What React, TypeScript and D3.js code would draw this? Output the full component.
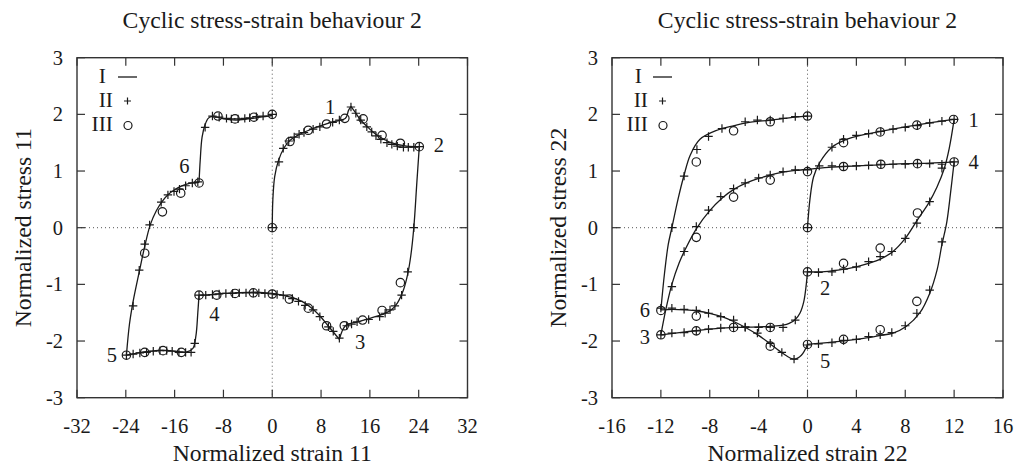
import React from "react";
import * as d3 from "d3";

type P = [number, number];

// ---------- Left panel (strain 11 / stress 11) ----------
const leftXTicks = [-32, -24, -16, -8, 0, 8, 16, 24, 32];
const rightXTicks = [-16, -12, -8, -4, 0, 4, 8, 12, 16];
const yTicks = [-3, -2, -1, 0, 1, 2, 3];

// Curve I, left, branches
const L_I_01: P[] = [[0,0],[0.1,0.5],[0.4,0.9],[1,1.18],[2,1.42],[3,1.55],[4,1.62],[6,1.72],[8,1.8],[10,1.87],[12,1.93],[12.5,2.07],[12.9,2.14]];
const L_I_12: P[] = [[12.9,2.14],[13.7,2.02],[14.5,1.9],[15.5,1.79],[16.5,1.69],[17.5,1.61],[18.5,1.55],[19.5,1.5],[20.5,1.47],[22,1.44],[24.1,1.43]];
const L_I_23: P[] = [[24.1,1.43],[23.7,0.8],[23.2,0],[22.7,-0.5],[22.2,-0.82],[21.5,-1.1],[20.5,-1.33],[19.5,-1.45],[18,-1.53],[16,-1.6],[14,-1.66],[12,-1.73],[11,-1.97]];
const L_I_34: P[] = [[11,-1.97],[10,-1.84],[9,-1.71],[8,-1.58],[7,-1.47],[6,-1.38],[5,-1.31],[4,-1.26],[2,-1.2],[0,-1.16],[-2,-1.14],[-4,-1.14],[-6,-1.15],[-8,-1.16],[-10,-1.18],[-12,-1.19]];
const L_I_45: P[] = [[-12,-1.19],[-12.2,-1.5],[-12.5,-1.9],[-13,-2.13],[-14,-2.19],[-16,-2.18],[-18,-2.16],[-20,-2.18],[-22,-2.21],[-23.9,-2.25]];
const L_I_56: P[] = [[-23.9,-2.25],[-23.4,-1.7],[-22.8,-1.3],[-21.8,-0.78],[-20.9,-0.33],[-20,0.05],[-19,0.3],[-18,0.47],[-17,0.59],[-16,0.67],[-15,0.73],[-14,0.77],[-13,0.79],[-12,0.8]];
const L_I_6e: P[] = [[-12,0.8],[-11.8,1.2],[-11.5,1.6],[-11,1.82],[-10.5,1.93],[-10,1.96],[-9,1.95],[-8,1.92],[-6,1.9],[-4,1.92],[-2,1.95],[0,1.98]];

const L_II: P[] = [
  [0,0],[1.1,1.16],[1.8,1.4],[2.7,1.53],[3.6,1.6],[4.4,1.65],[5.2,1.68],[6.7,1.74],[7.8,1.78],[9.9,1.86],[11,1.9],[12.9,2.13],
  [13.7,2.02],[14.5,1.9],[15.5,1.78],[16.3,1.69],[17,1.62],[17.8,1.56],[18.8,1.5],[19.6,1.47],[20.5,1.44],[21.5,1.42],[22.3,1.42],[23.2,1.42],[24.1,1.43],
  [23.2,0],[22.2,-0.78],[21.2,-1.19],[20.1,-1.38],[19.3,-1.45],[18.5,-1.51],[17.6,-1.57],[15.8,-1.62],[13.9,-1.66],[13,-1.7],[12.2,-1.73],[11,-1.95],
  [10,-1.83],[9.2,-1.75],[7.8,-1.57],[6.7,-1.45],[5.4,-1.37],[4.3,-1.3],[3.3,-1.25],[1.8,-1.19],[0.8,-1.18],[0,-1.17],[-1.2,-1.16],[-2.2,-1.15],[-3.1,-1.15],[-4.3,-1.15],[-5.4,-1.15],[-6.5,-1.16],[-7.6,-1.16],[-8.7,-1.17],[-9.8,-1.18],[-10.9,-1.19],[-12,-1.19],
  [-12.7,-2.04],[-13.3,-2.2],[-14.2,-2.2],[-15.3,-2.2],[-16.4,-2.18],[-17.3,-2.17],[-18.4,-2.17],[-19.5,-2.18],[-20.6,-2.2],[-21.7,-2.21],[-22.8,-2.23],[-23.9,-2.25],
  [-22.8,-1.38],[-21.8,-0.75],[-20.9,-0.29],[-20.1,0.05],[-18.2,0.45],[-17.1,0.58],[-16.1,0.64],[-15.2,0.68],[-14.2,0.74],[-13.1,0.79],[-12.2,0.81],
  [-11,1.77],[-9.8,1.97],[-8.7,1.95],[-7.5,1.93],[-6.7,1.92],[-5.6,1.92],[-4.5,1.93],[-3.7,1.94],[-2.6,1.96],[-1.5,1.97],[0,2.0],
];

const L_III: P[] = [
  [0,0],[2.9,1.52],[5.9,1.72],[8.9,1.83],[11.9,1.93],[14.9,1.92],[18,1.63],[21,1.49],[24.1,1.43],
  [21,-0.97],[18,-1.46],[14.8,-1.63],[11.8,-1.73],[8.9,-1.73],[5.9,-1.42],[2.8,-1.26],[0,-1.17],[-3.1,-1.15],[-6.1,-1.16],[-9.1,-1.19],[-12,-1.19],
  [-14.9,-2.2],[-17.9,-2.17],[-20.9,-2.2],[-23.9,-2.25],[-20.9,-0.45],[-18,0.28],[-15,0.61],[-12,0.79],
  [-8.9,1.97],[-6.1,1.92],[-3,1.95],[0,2.0],
];

const L_labels = ["1", "2", "3", "4", "5", "6"];
const L_labelPos: P[] = [[9.5,2.13],[27.3,1.46],[14.4,-2.01],[-9.5,-1.53],[-26.3,-2.25],[-14.4,1.09]];

// ---------- Right panel (strain 22 / stress 22) ----------
const R_I_01: P[] = [[0,0],[0.2,0.5],[0.5,0.9],[1,1.15],[2,1.42],[3,1.54],[4,1.61],[6,1.7],[8,1.78],[10,1.85],[12,1.91]];
const R_I_12: P[] = [[12,1.91],[11.6,1.4],[11.2,1.05],[10.6,0.72],[9.9,0.43],[9,0.14],[8,-0.19],[7,-0.42],[6,-0.55],[5,-0.63],[4,-0.69],[3,-0.73],[2,-0.76],[1,-0.78],[0,-0.78]];
const R_I_23: P[] = [[0,-0.78],[-0.1,-1.0],[-0.3,-1.3],[-0.6,-1.5],[-1,-1.62],[-1.5,-1.69],[-2,-1.72],[-3,-1.74],[-4,-1.75],[-6,-1.76],[-8,-1.79],[-10,-1.84],[-12,-1.89]];
const R_I_34: P[] = [[-12,-1.89],[-11.6,-1.45],[-11.1,-1.0],[-10.5,-0.62],[-10,-0.38],[-9.1,-0.02],[-8,0.3],[-7,0.52],[-6,0.68],[-5,0.79],[-4,0.87],[-3,0.93],[-2,0.98],[-1,1.01],[0,1.03],[2,1.07],[4,1.09],[6,1.11],[8,1.13],[10,1.14],[12,1.16]];
const R_I_45: P[] = [[12,1.16],[11.7,0.6],[11.4,0.1],[11,-0.3],[10.6,-0.75],[10,-1.16],[9.2,-1.5],[8.1,-1.74],[7,-1.86],[6,-1.9],[5,-1.94],[4,-1.97],[2,-2.02],[0,-2.06]];
const R_I_56: P[] = [[0,-2.06],[-0.5,-2.25],[-1.1,-2.32],[-2,-2.22],[-3,-2.06],[-4,-1.9],[-5,-1.77],[-6,-1.66],[-7,-1.57],[-8,-1.51],[-9,-1.47],[-10,-1.45],[-11,-1.44],[-12,-1.45]];
const R_I_6e: P[] = [[-12,-1.45],[-11.7,-0.8],[-11.4,-0.3],[-11.1,0.0],[-10.6,0.5],[-10.1,0.93],[-9.6,1.28],[-8.8,1.56],[-7.4,1.72],[-6,1.8],[-5,1.85],[-3,1.9],[-1,1.95],[0,1.97]];

const R_II: P[] = [
  [0,0],[0.96,1.09],[2,1.42],[2.95,1.56],[4,1.63],[5,1.66],[6,1.7],[7,1.74],[8,1.77],[9,1.8],[10,1.85],[11,1.88],[12,1.91],
  [11,1.05],[10,0.46],[8.95,0.08],[8,-0.19],[6.9,-0.42],[5.95,-0.51],[5,-0.6],[4,-0.69],[2.95,-0.73],[2,-0.78],[0.9,-0.79],[0,-0.78],
  [-1,-1.63],[-2,-1.76],[-3.05,-1.76],[-4,-1.76],[-5.1,-1.75],[-6.05,-1.76],[-7.1,-1.77],[-8.1,-1.79],[-9.1,-1.82],[-10.1,-1.85],[-11.1,-1.86],[-12,-1.89],
  [-11.1,-1.04],[-10.1,-0.42],[-9.1,0.02],[-8.1,0.31],[-7.1,0.55],[-6.05,0.69],[-5.1,0.79],[-4,0.88],[-3.05,0.93],[-2,0.99],[-1,1.02],[0,1.02],[2,1.09],[2.95,1.08],[4,1.09],[5,1.1],[6,1.12],[7,1.12],[8,1.12],[9,1.13],[10,1.13],[11,1.12],[12,1.16],
  [11,-0.25],[10,-1.1],[8.95,-1.51],[8,-1.73],[6.9,-1.85],[5.95,-1.89],[5,-1.92],[4,-1.97],[2.95,-1.99],[2,-2.03],[0.9,-2.05],[0,-2.07],
  [-1.1,-2.32],[-2.1,-2.2],[-3.05,-2.04],[-4.1,-1.86],[-5.1,-1.76],[-6.05,-1.63],[-7.1,-1.57],[-8.1,-1.51],[-9.1,-1.46],[-10.1,-1.44],[-11.1,-1.42],[-12,-1.42],
  [-11.1,0.0],[-10.1,0.91],[-9.05,1.38],[-8.1,1.61],[-7,1.75],[-5.1,1.87],[-4.1,1.9],[-3.05,1.9],[-2,1.93],[-1,1.96],[0,1.97],
];

const R_III: P[] = [
  [0,0],[2.95,1.5],[5.95,1.69],[8.95,1.81],[11.95,1.91],
  [9,0.26],[5.95,-0.36],[2.95,-0.63],[0,-0.78],
  [-3.05,-1.76],[-6.05,-1.76],[-9.1,-1.82],[-12,-1.89],
  [-9.1,-0.17],[-6.05,0.54],[-3.05,0.84],[0,0.99],[2.95,1.08],[6,1.12],[9,1.13],[12,1.16],
  [8.95,-1.3],[5.95,-1.8],[2.95,-1.97],[0,-2.06],
  [-3.05,-2.09],[-9.1,-1.56],[-12,-1.46],
  [-9.1,1.16],[-6.05,1.71],[-3.05,1.87],[0,1.97],
];

const R_labels = ["1", "4", "2", "5", "6", "3"];
const R_labelPos: P[] = [[13.6,1.9],[13.6,1.16],[1.45,-1.07],[1.45,-2.36],[-13.3,-1.45],[-13.3,-1.92]];

const legendNames = ["I", "II", "III"];

const FONT = "'Liberation Serif', 'Times New Roman', Times, serif";
const INK = "#1a1a1a";

type PanelProps = {
  x0: number; x1: number; y0: number; y1: number;
  xDomain: [number, number]; xTicks: number[];
  branches: P[][]; plus: P[]; circles: P[];
  labels: string[]; labelPos: P[];
  title: string; xLabel: string; yLabel: string;
  legendTextDx: number[];
};

function Panel(p: PanelProps) {
  const x = d3.scaleLinear().domain(p.xDomain).range([p.x0, p.x1]);
  const y = d3.scaleLinear().domain([-3, 3]).range([p.y1, p.y0]);
  const line = d3.line<P>().x((d) => x(d[0])).y((d) => y(d[1])).curve(d3.curveCatmullRom.alpha(0.5));
  const cx = (p.x0 + p.x1) / 2;
  const cy = (p.y0 + p.y1) / 2;
  const tl = 8;
  const ps = 4.2;
  return (
    <g>
      {/* zero lines */}
      <line x1={x(0)} x2={x(0)} y1={p.y0} y2={p.y1} stroke="#555" strokeWidth={1} strokeDasharray="1,3" />
      <line x1={p.x0} x2={p.x1} y1={y(0)} y2={y(0)} stroke="#555" strokeWidth={1} strokeDasharray="1,3" />
      {/* ticks */}
      {p.xTicks.map((t) => (
        <g key={"xt" + t}>
          <line x1={x(t)} x2={x(t)} y1={p.y1} y2={p.y1 - tl} stroke="#333" strokeWidth={1.2} />
          <line x1={x(t)} x2={x(t)} y1={p.y0} y2={p.y0 + tl} stroke="#333" strokeWidth={1.2} />
          <text x={x(t)} y={433} textAnchor="middle" fontFamily={FONT} fontSize={20.5} fill={INK}>{t}</text>
        </g>
      ))}
      {yTicks.map((t) => (
        <g key={"yt" + t}>
          <line x1={p.x0} x2={p.x0 + tl} y1={y(t)} y2={y(t)} stroke="#333" strokeWidth={1.2} />
          <line x1={p.x1} x2={p.x1 - tl} y1={y(t)} y2={y(t)} stroke="#333" strokeWidth={1.2} />
          <text x={p.x0 - 14} y={y(t) + 7} textAnchor="end" fontFamily={FONT} fontSize={20.5} fill={INK}>{t}</text>
        </g>
      ))}
      <rect x={p.x0} y={p.y0} width={p.x1 - p.x0} height={p.y1 - p.y0} fill="none" stroke="#333" strokeWidth={1.4} />
      {/* curve I */}
      {p.branches.map((b, i) => (
        <path key={"b" + i} d={line(b) || ""} fill="none" stroke={INK} strokeWidth={1.3} />
      ))}
      {/* II plus */}
      {p.plus.map((d, i) => (
        <path key={"p" + i} d={`M${x(d[0]) - ps},${y(d[1])}h${2 * ps}M${x(d[0])},${y(d[1]) - ps}v${2 * ps}`} stroke={INK} strokeWidth={1.2} fill="none" />
      ))}
      {/* III circles */}
      {p.circles.map((d, i) => (
        <circle key={"c" + i} cx={x(d[0])} cy={y(d[1])} r={4.2} fill="none" stroke={INK} strokeWidth={1.2} />
      ))}
      {/* point labels */}
      {p.labels.map((l, i) => (
        <text key={"l" + i} x={x(p.labelPos[i][0])} y={y(p.labelPos[i][1]) + 7} textAnchor="middle" fontFamily={FONT} fontSize={20.5} fill={INK}>{l}</text>
      ))}
      {/* legend */}
      {legendNames.map((n, i) => (
        <text key={"lg" + i} x={p.x0 + p.legendTextDx[i]} y={83 + i * 24} textAnchor="end" fontFamily={FONT} fontSize={21.5} fill={INK}>{n}</text>
      ))}
      <line x1={p.x0 + 41} x2={p.x0 + 60} y1={77} y2={77} stroke={INK} strokeWidth={1.3} />
      <path d={`M${p.x0 + 50.5 - 3.5},101h7M${p.x0 + 50.5},${101 - 3.5}v7`} stroke={INK} strokeWidth={1.2} fill="none" />
      <circle cx={p.x0 + 51} cy={125.5} r={4} fill="none" stroke={INK} strokeWidth={1.2} />
      {/* titles */}
      <text x={cx} y={28} textAnchor="middle" fontFamily={FONT} fontSize={23.7} fill={INK}>{p.title}</text>
      <text x={cx} y={461} textAnchor="middle" fontFamily={FONT} fontSize={23.7} fill={INK}>{p.xLabel}</text>
      <text transform={`translate(${p.x0 - 46},${cy}) rotate(-90)`} textAnchor="middle" fontFamily={FONT} fontSize={23.7} fill={INK}>{p.yLabel}</text>
    </g>
  );
}

export default function App() {
  return (
    <svg width={1015} height={468} style={{ position: "absolute", left: 0, top: 0, background: "#fff" }}>
      <rect x={0} y={0} width={1015} height={468} fill="#fff" />
      <Panel
        x0={77} x1={467.5} y0={57.7} y1={397.7}
        xDomain={[-32, 32]} xTicks={leftXTicks}
        branches={[L_I_01, L_I_12, L_I_23, L_I_34, L_I_45, L_I_56, L_I_6e]}
        plus={L_II} circles={L_III}
        labels={L_labels} labelPos={L_labelPos}
        title="Cyclic stress-strain behaviour 2"
        xLabel="Normalized strain 11" yLabel="Normalized stress 11"
        legendTextDx={[29, 36, 36]}
      />
      <Panel
        x0={612} x1={1003} y0={57.7} y1={397.7}
        xDomain={[-16, 16]} xTicks={rightXTicks}
        branches={[R_I_01, R_I_12, R_I_23, R_I_34, R_I_45, R_I_56, R_I_6e]}
        plus={R_II} circles={R_III}
        labels={R_labels} labelPos={R_labelPos}
        title="Cyclic stress-strain behaviour 2"
        xLabel="Normalized strain 22" yLabel="Normalized stress 22"
        legendTextDx={[30, 36, 36]}
      />
    </svg>
  );
}
